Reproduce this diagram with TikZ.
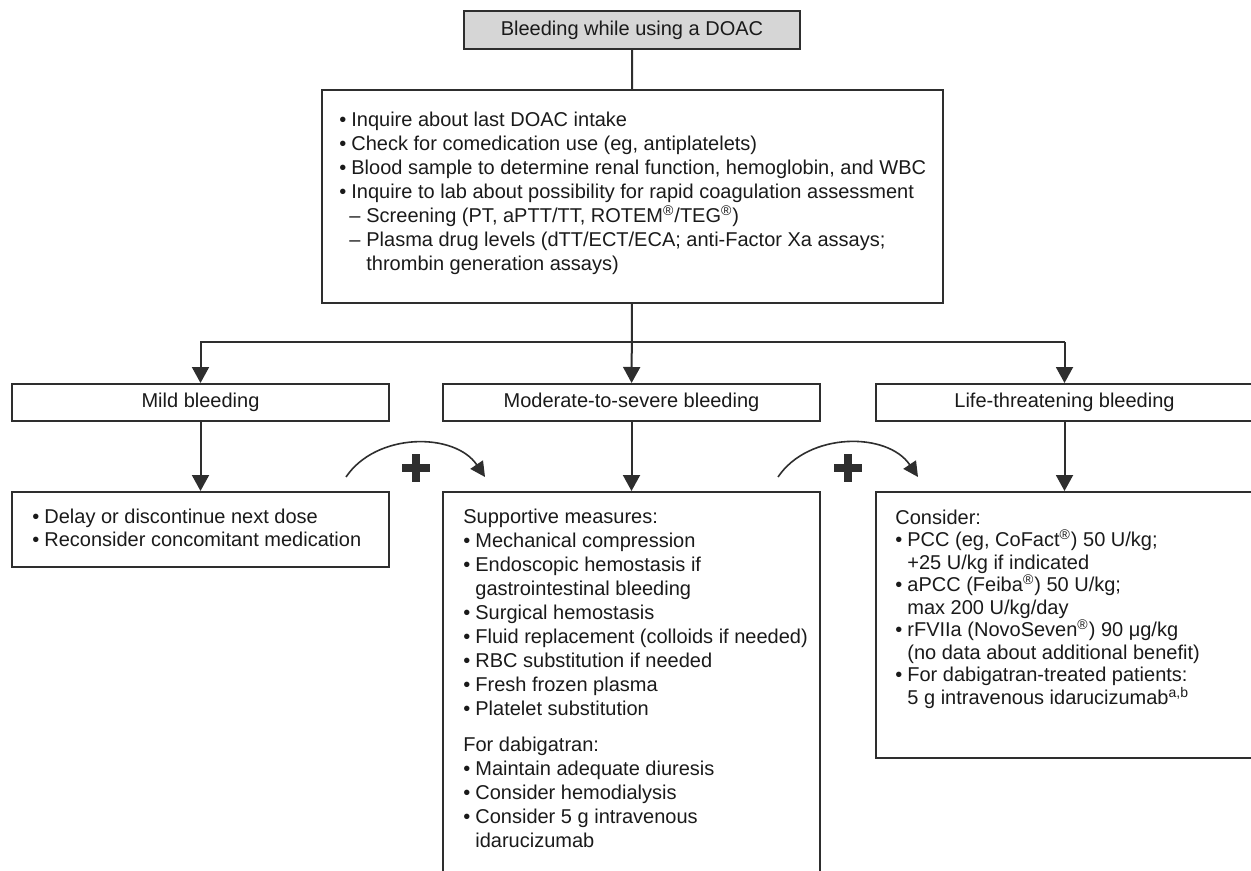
\documentclass[tikz,border=0pt]{standalone}
\usepackage{fontspec}
\setmainfont{Liberation Sans}
\usetikzlibrary{arrows.meta}
\definecolor{linec}{HTML}{2E2E2E}
\definecolor{txtc}{HTML}{1A1A1A}
\definecolor{topfill}{HTML}{D6D6D6}
\newcommand{\bl}{\makebox[6pt][l]{•}}
\newcommand{\reg}{\textsuperscript{®}}
\tikzset{
  box/.style={draw=linec, line width=1pt, inner sep=0pt},
  hdr/.style={box, minimum width=188.5pt, minimum height=18.5pt, font=\fontsize{10}{12}\selectfont, text=txtc},
  txt/.style={anchor=north west, inner sep=0pt, align=left, text=txtc, font=\fontsize{10}{12}\selectfont},
  arr/.style={draw=linec, line width=1pt, -{Triangle[length=8pt,width=8.5pt]}},
  conn/.style={draw=linec, line width=1pt},
  curv/.style={draw=linec, line width=0.8pt, -{Triangle[length=7.5pt,width=7.5pt]}},
  plusbar/.style={draw=linec, line width=4pt},
  plusnode/.style={minimum size=14pt, inner sep=0pt, outer sep=0pt}
}
\begin{document}
\begin{tikzpicture}[x=0.5pt, y=-0.5pt]
\useasboundingbox (0,0) rectangle (1251,871);
\clip (0,0) rectangle (1251,871);
% top box
\node[box, fill=topfill, minimum width=168pt, minimum height=19pt, font=\fontsize{10}{12}\selectfont, text=txtc] (top) at (632,30) {Bleeding while using a DOAC};
% big box
\node[box, minimum width=310.5pt, minimum height=106.5pt] (big) at (632.5,196.5) {};
\node[txt] (bigtxt) at (339,112) {%
\bl Inquire about last DOAC intake\\
\bl Check for comedication use (eg, antiplatelets)\\
\bl Blood sample to determine renal function, hemoglobin, and WBC\\
\bl Inquire to lab about possibility for rapid coagulation assessment\\
\hspace*{5pt}\makebox[8.5pt][l]{–}Screening (PT, aPTT/TT, ROTEM\reg/TEG\reg)\\
\hspace*{5pt}\makebox[8.5pt][l]{–}Plasma drug levels (dTT/ECT/ECA; anti-Factor Xa assays;\\
\hspace*{13.5pt}thrombin generation assays)};
% header boxes
\node[hdr] (mildh) at (200.5,402.5) {Mild bleeding};
\node[hdr] (modh) at (631.5,402.5) {Moderate-to-severe bleeding};
\node[hdr] (lifeh) at (1064.5,402.5) {Life-threatening bleeding};
% bottom boxes
\node[box, minimum width=188.5pt, minimum height=37.5pt] (mildb) at (200.5,529.5) {};
\node[box, minimum width=188.5pt, minimum height=199pt] (modb) at (631.5,691) {};
\node[box, minimum width=188.5pt, minimum height=133pt] (lifeb) at (1064.5,625) {};
\node[txt, font=\fontsize{10}{11.5}\selectfont] (mildtxt) at (32,508.5) {%
\bl Delay or discontinue next dose\\
\bl Reconsider concomitant medication};
\node[txt] (modtxt) at (463,508.5) {%
Supportive measures:\\
\bl Mechanical compression\\
\bl Endoscopic hemostasis if\\
\hspace*{6pt}gastrointestinal bleeding\\
\bl Surgical hemostasis\\
\bl Fluid replacement (colloids if needed)\\
\bl RBC substitution if needed\\
\bl Fresh frozen plasma\\
\bl Platelet substitution\\[6pt]
For dabigatran:\\
\bl Maintain adequate diuresis\\
\bl Consider hemodialysis\\
\bl Consider 5 g intravenous\\
\hspace*{6pt}idarucizumab};
\node[txt, font=\fontsize{10}{11.25}\selectfont] (lifetxt) at (895,509.5) {%
Consider:\\
\bl PCC (eg, CoFact\reg) 50 U/kg;\\
\hspace*{6pt}+25 U/kg if indicated\\
\bl aPCC (Feiba\reg) 50 U/kg;\\
\hspace*{6pt}max 200 U/kg/day\\
\bl rFVIIa (NovoSeven\reg) 90 μg/kg\\
\hspace*{6pt}(no data about additional benefit)\\
\bl For dabigatran-treated patients:\\
\hspace*{6pt}5 g intravenous idarucizumab\textsuperscript{a,b}};
% connectors
\draw[conn] (top) -- (big);
\draw[arr] (big) -- (modh);
\coordinate (brR) at (1064.5,342);
\draw[arr] (brR) -| (mildh.north);
\draw[arr] (brR) -- (lifeh.north);
\draw[arr] (mildh) -- (mildb);
\draw[arr] (modh) -- (modb.north -| modh.south);
\draw[arr] (lifeh) -- (lifeb);
% curved plus arrows
\coordinate (c1s) at (346,477);
\coordinate (c1e) at (485,477);
\coordinate (c2s) at (778,477);
\coordinate (c2e) at (918,477);
\draw[curv] (c1s) to[bend left=56] (c1e);
\draw[curv] (c2s) to[bend left=56] (c2e);
\node[plusnode] (plus1) at (416,468) {};
\node[plusnode] (plus2) at (848,468) {};
\draw[plusbar] (plus1.west) -- (plus1.east);
\draw[plusbar] (plus1.north) -- (plus1.south);
\draw[plusbar] (plus2.west) -- (plus2.east);
\draw[plusbar] (plus2.north) -- (plus2.south);
\end{tikzpicture}
\end{document}
